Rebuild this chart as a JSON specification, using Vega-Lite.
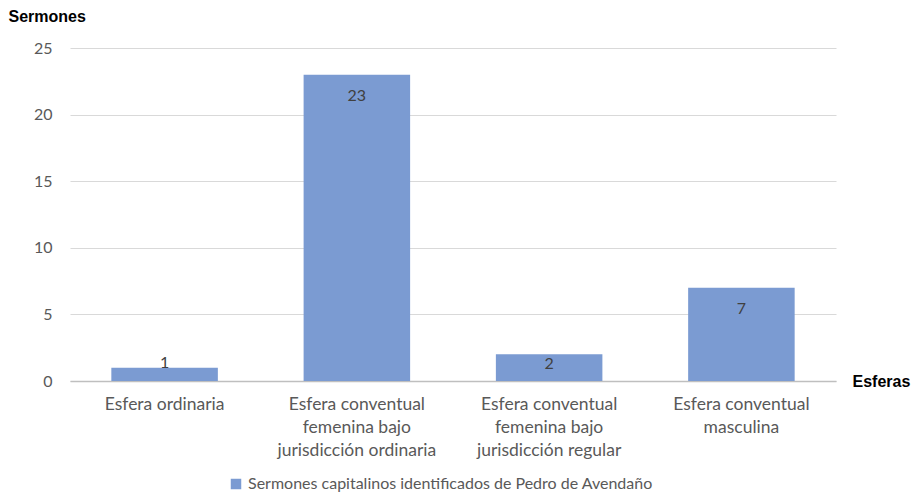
{
  "$schema": "https://vega.github.io/schema/vega-lite/v6.json",
  "autosize": {"type": "none"},
  "padding": {"left": 70, "top": 48, "right": 80, "bottom": 116},
  "width": 766,
  "height": 333,
  "background": "white",
  "data": {
    "values": [
      {"esfera": "Esfera ordinaria", "sermones": 1, "serie": "Sermones capitalinos identificados de Pedro de Avendaño"},
      {"esfera": "Esfera conventual femenina bajo jurisdicción ordinaria", "sermones": 23, "serie": "Sermones capitalinos identificados de Pedro de Avendaño"},
      {"esfera": "Esfera conventual femenina bajo jurisdicción regular", "sermones": 2, "serie": "Sermones capitalinos identificados de Pedro de Avendaño"},
      {"esfera": "Esfera conventual masculina", "sermones": 7, "serie": "Sermones capitalinos identificados de Pedro de Avendaño"}
    ]
  },
  "config": {
    "view": {"stroke": null},
    "font": "Lato"
  },
  "encoding": {
    "x": {
      "field": "esfera",
      "type": "nominal",
      "sort": null,
      "scale": {"paddingInner": 0.446, "paddingOuter": 0.215},
      "axis": {
        "title": "Esferas",
        "titleFont": "Liberation Sans",
        "titleFontWeight": "bold",
        "titleFontSize": 16,
        "titleColor": "#000000",
        "titleAnchor": "start",
        "titleAlign": "left",
        "titleBaseline": "middle",
        "titleX": 782,
        "titleY": 0,
        "labelAngle": 0,
        "labelFontSize": 17.5,
        "labelColor": "#595959",
        "labelLineHeight": 23,
        "labelPadding": 14,
        "labelLimit": 300,
        "labelExpr": "split(replace(replace(datum.label, 'conventual ', 'conventual|'), 'bajo ', 'bajo|'), '|')",
        "ticks": false,
        "domainColor": "#bfbfbf",
        "domainWidth": 1.5,
        "grid": false
      }
    },
    "y": {
      "field": "sermones",
      "type": "quantitative",
      "scale": {"domain": [0, 25], "nice": false},
      "axis": {
        "title": "Sermones",
        "titleFont": "Liberation Sans",
        "titleFontWeight": "bold",
        "titleFontSize": 16,
        "titleColor": "#000000",
        "titleAngle": 0,
        "titleAlign": "left",
        "titleBaseline": "alphabetic",
        "titleX": -62,
        "titleY": -27,
        "values": [0, 5, 10, 15, 20, 25],
        "labelFontSize": 16,
        "labelColor": "#595959",
        "labelPadding": 18,
        "ticks": false,
        "domain": false,
        "gridColor": "#d9d9d9",
        "gridWidth": 1
      }
    }
  },
  "layer": [
    {
      "mark": {"type": "bar", "color": "#7b9bd2"},
      "encoding": {
        "color": {
          "field": "serie",
          "type": "nominal",
          "scale": {"range": ["#7b9bd2"]},
          "legend": {
            "title": null,
            "orient": "none",
            "legendX": 158,
            "legendY": 428,
            "symbolType": "square",
            "symbolSize": 110,
            "symbolStrokeWidth": 0,
            "labelFontSize": 16,
            "labelColor": "#595959",
            "labelLimit": 600,
            "labelOffset": 4
          }
        }
      }
    },
    {
      "transform": [{"filter": "datum.sermones >= 3"}],
      "mark": {"type": "text", "dy": 21, "fontSize": 16, "color": "#404040"},
      "encoding": {"text": {"field": "sermones", "type": "quantitative"}}
    },
    {
      "transform": [{"filter": "datum.sermones == 2"}],
      "mark": {"type": "text", "dy": 10, "fontSize": 16, "color": "#404040"},
      "encoding": {"text": {"field": "sermones", "type": "quantitative"}}
    },
    {
      "transform": [{"filter": "datum.sermones < 2"}],
      "mark": {"type": "text", "dy": -5, "fontSize": 16, "color": "#404040"},
      "encoding": {"text": {"field": "sermones", "type": "quantitative"}}
    }
  ]
}
